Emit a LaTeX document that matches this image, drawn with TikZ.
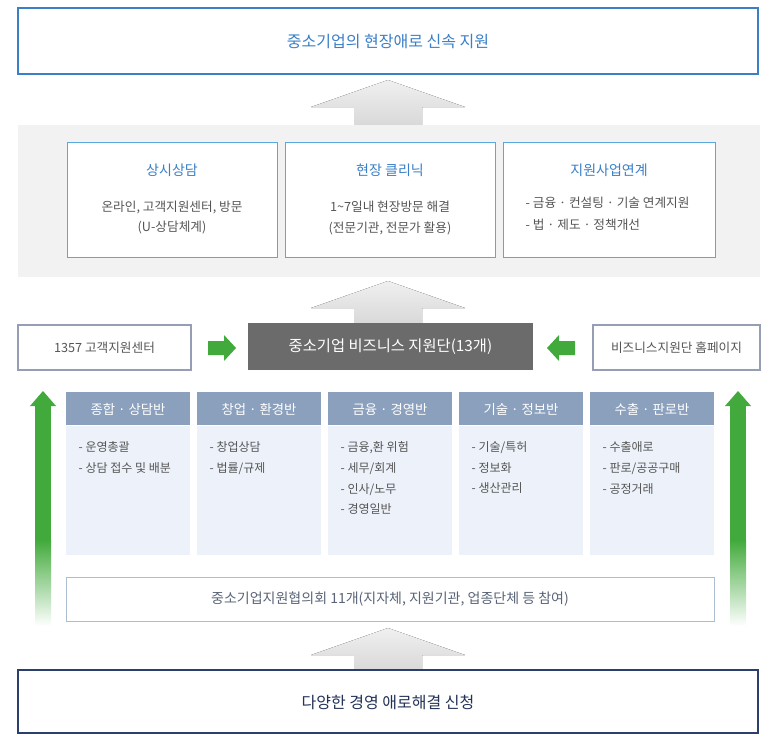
\documentclass[tikz,border=0pt]{standalone}
\usepackage{fontspec}
\setmainfont{Noto Sans CJK KR}
\definecolor{tblue}{HTML}{3A7FC8}
\definecolor{lblue}{HTML}{5AA9DD}
\definecolor{hdr}{HTML}{8AA0BD}
\definecolor{bodyc}{HTML}{EDF2FA}
\definecolor{navy}{HTML}{2C3E6E}
\definecolor{gtx}{HTML}{555555}
\definecolor{grn}{HTML}{42AA3C}
\definecolor{dgray}{HTML}{6B6B6B}
\definecolor{stx}{HTML}{5A6478}
\begin{document}
\begin{tikzpicture}[x=0.75pt,y=-0.75pt,
  t/.style={font=\fontsize{9.5}{12}\selectfont,text=gtx,align=center},
  tt/.style={font=\fontsize{10.5}{13}\selectfont,text=tblue},
  garrow/.style={top color=gray!12,bottom color=gray!30,draw=none}]
\useasboundingbox (0,0) rectangle (773,749);
% top
\draw[draw=tblue,line width=1.5pt,fill=white] (18,8) rectangle (758,74);
\node[tt,font=\fontsize{12}{14}\selectfont] (top) at (388,42) {중소기업의 현장애로 신속 지원};
% gray arrows
\foreach \ya/\yb in {80/125,281/323,628/670}{
  \fill[garrow] (388,\ya) -- (465,\ya+27) -- (422,\ya+27) -- (422,\yb) -- (354,\yb) -- (354,\ya+27) -- (311,\ya+27) -- cycle;}
% gray panel
\fill[gray!10] (18,125) rectangle (760,277);
\foreach \x/\n/\ti/\la/\lb in {67/a/상시상담/{온라인, 고객지원센터, 방문}/{(U-상담체계)},285/b/현장 클리닉/{1\textasciitilde7일내 현장방문 해결}/{(전문기관, 전문가 활용)}}{
  \draw[draw=lblue,fill=white] (\x,142) rectangle (\x+210,257);
  \node[tt] (\n) at (\x+105,170) {\ti};
  \node[t] at (\x+105,207) {\la};
  \node[t] at (\x+105,228) {\lb};}
\draw[draw=lblue,fill=white] (503,142) rectangle (715,257);
\node[tt] (c) at (609,170) {지원사업연계};
\node[t,anchor=west] at (521,203) {- 금융 · 컨설팅 · 기술 연계지원};
\node[t,anchor=west] at (521,225) {- 법 · 제도 · 정책개선};
% middle row
\node[draw=navy!50,line width=1pt,fill=white,minimum width=173*0.75pt,minimum height=45*0.75pt,t] (cs) at (104.5,347.5) {1357 고객지원센터};
\node[fill=dgray,text=white,minimum width=285*0.75pt,minimum height=47*0.75pt,font=\fontsize{11.5}{13}\selectfont] (bz) at (390.5,346.5) {중소기업 비즈니스 지원단(13개)};
\node[draw=navy!50,line width=1pt,fill=white,minimum width=167*0.75pt,minimum height=45*0.75pt,t] (hp) at (676.5,347.5) {비즈니스지원단 홈페이지};
\fill[grn] (208,341) -- (224,341) -- (224,335) -- (236,348) -- (224,361) -- (224,355) -- (208,355) -- cycle;
\fill[grn] (575,341) -- (559,341) -- (559,335) -- (547,348) -- (559,361) -- (559,355) -- (575,355) -- cycle;
% green vertical arrows
\foreach \x in {43,738}{
  \fill[grn] (\x-8,405) rectangle (\x+8,541);
  \shade[top color=grn,bottom color=white] (\x-8,540) rectangle (\x+8,626);
  \fill[grn] (\x-13,406) -- (\x,391) -- (\x+13,406) -- cycle;}
% columns
\foreach \x/\h/\b in {66/{종합 · 상담반}/{- 운영총괄\\- 상담 접수 및 배분},
  197/{창업 · 환경반}/{- 창업상담\\- 법률/규제},
  328/{금융 · 경영반}/{- 금융,환 위험\\- 세무/회계\\- 인사/노무\\- 경영일반},
  459/{기술 · 정보반}/{- 기술/특허\\- 정보화\\- 생산관리},
  590/{수출 · 판로반}/{- 수출애로\\- 판로/공공구매\\- 공정거래}}{
  \fill[hdr] (\x,392) rectangle (\x+124,425);
  \node[text=white,font=\fontsize{10}{12}\selectfont] at (\x+62,409) {\h};
  \fill[bodyc] (\x,426) rectangle (\x+124,555);
  \node[text=gtx,font=\fontsize{9}{15.5}\selectfont,align=left,anchor=north west] at (\x+8,437) {\b};}
% council
\draw[draw=hdr!70,fill=white] (66,577) rectangle (714,621);
\node[text=stx,font=\fontsize{10.5}{13}\selectfont] (co) at (390,599) {중소기업지원협의회 11개(지자체, 지원기관, 업종단체 등 참여)};
% bottom
\draw[draw=navy,line width=1.5pt,fill=white] (18,670) rectangle (758,733);
\node[text=navy!80!black,font=\fontsize{12}{14}\selectfont] (bt) at (388,702) {다양한 경영 애로해결 신청};
\end{tikzpicture}
\end{document}
